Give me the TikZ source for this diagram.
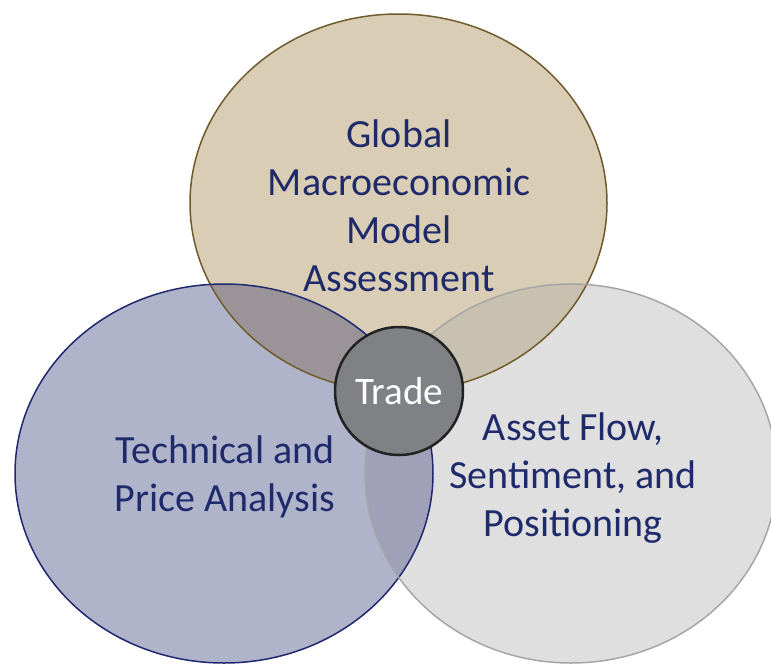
\documentclass[tikz,border=0pt]{standalone}
\usepackage{fontspec}
\setmainfont{Carlito}
\definecolor{topfill}{HTML}{D9CEB5}
\definecolor{topline}{HTML}{6F5B2C}
\definecolor{leftfill}{HTML}{AFB4CA}
\definecolor{leftline}{HTML}{1F2870}
\definecolor{rightfill}{HTML}{DFDFDF}
\definecolor{rightline}{HTML}{A6A6A6}
\definecolor{tlfill}{HTML}{9A9499}
\definecolor{trfill}{HTML}{C9C1AF}
\definecolor{lrfill}{HTML}{A0A1B9}
\definecolor{tradefill}{HTML}{808184}
\definecolor{tradeline}{HTML}{222222}
\definecolor{navytext}{HTML}{1F2A6B}
\tikzset{
  venntext/.style={text=navytext, align=center, font=\fontsize{40}{48}\selectfont, inner sep=0pt},
  ring/.style={line width=1.5pt},
}
\begin{document}
\begin{tikzpicture}[x=1pt,y=-1pt]
\useasboundingbox (0,0) rectangle (771,664);
\def\topE{(398.5,203) ellipse [x radius=208.5, y radius=189]}
\def\leftE{(224,473.5) ellipse [x radius=209, y radius=189.5]}
\def\rightE{(571,473.5) ellipse [x radius=206, y radius=189.5]}
% fills
\fill[topfill] \topE;
\fill[leftfill] \leftE;
\fill[rightfill] \rightE;
\begin{scope}
  \clip \topE;
  \fill[tlfill] \leftE;
  \fill[trfill] \rightE;
\end{scope}
\begin{scope}
  \clip \leftE;
  \fill[lrfill] \rightE;
\end{scope}
% outlines
\draw[ring, topline] \topE;
\draw[ring, leftline] \leftE;
\draw[ring, rightline] \rightE;
% texts
\node[venntext] (global) at (399,206) {Global\\Macroeconomic\\Model\\Assessment};
\node[venntext] (tech) at (225,477) {Technical and\\Price Analysis};
\node[venntext] (asset) at (573,478) {Asset Flow,\\Sentiment, and\\Positioning};
\node[circle, minimum size=128pt, inner sep=0pt, fill=tradefill, draw=tradeline, line width=2.5pt, text=white, font=\fontsize{39}{46}\selectfont] (trade) at (399,391) {Trade};
\end{tikzpicture}
\end{document}
